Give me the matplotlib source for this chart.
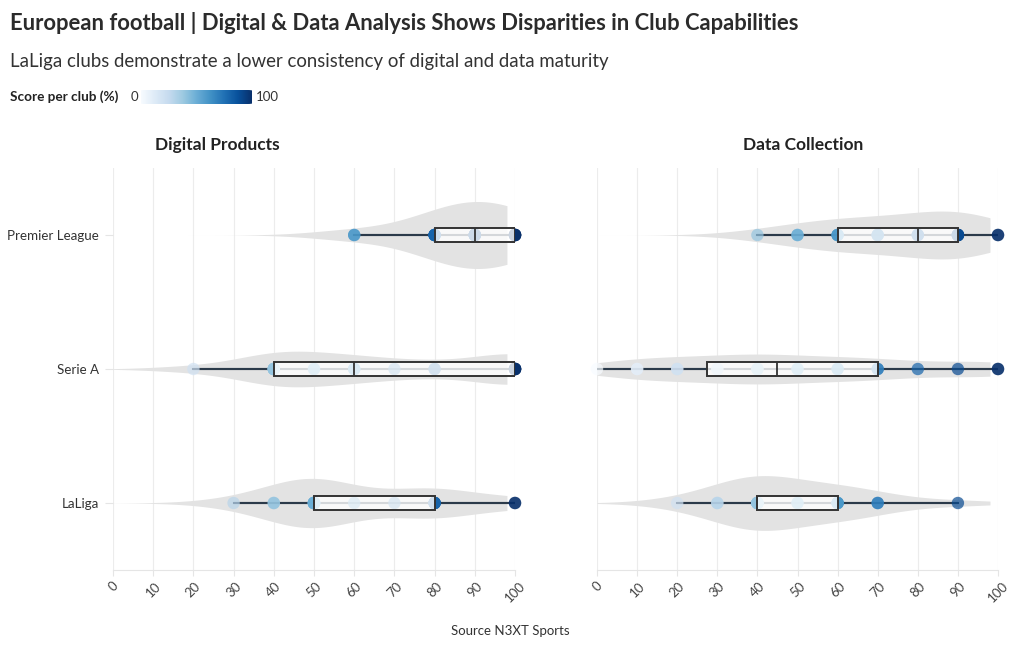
import numpy as np
import matplotlib
matplotlib.use("Agg")
import matplotlib.pyplot as plt
from matplotlib.patches import FancyBboxPatch

# ---------------- data ----------------
leagues = ["LaLiga", "Serie A", "Premier League"]
panel_titles = ["Digital Products", "Data Collection"]
x_ticks = [0, 10, 20, 30, 40, 50, 60, 70, 80, 90, 100]

digital_laliga = [30, 40, 40, 50, 50, 50, 50, 50, 50, 50, 50, 60, 70, 80, 80, 80, 80, 80, 100, 100]
digital_seriea = [20, 40, 40, 40, 40, 40, 50, 50, 60, 60, 60, 70, 80, 80, 100, 100, 100, 100, 100, 100]
digital_premier = [60, 60, 80, 80, 80, 80, 80, 90, 90, 90, 90, 90, 90, 90, 100, 100, 100, 100, 100, 100]

data_laliga = [20, 30, 30, 40, 40, 40, 40, 40, 40, 40, 40, 50, 50, 60, 60, 60, 60, 70, 70, 90]
data_seriea = [0, 10, 10, 20, 20, 30, 30, 40, 40, 40, 50, 50, 60, 60, 70, 70, 80, 90, 100, 100]
data_premier = [40, 50, 50, 60, 60, 60, 70, 70, 70, 80, 80, 80, 90, 90, 90, 90, 90, 90, 100, 100]

panels = [
    [digital_laliga, digital_seriea, digital_premier],
    [data_laliga, data_seriea, data_premier],
]

title = "European football | Digital & Data Analysis Shows Disparities in Club Capabilities"
subtitle = "LaLiga clubs demonstrate a lower consistency of digital and data maturity"
legend_label = "Score per club (%)"
source = "Source N3XT Sports"

# ---------------- style ----------------
FONT = ["Lato", "DejaVu Sans"]
plt.rcParams["font.family"] = FONT
W, H = 1020, 650
fig = plt.figure(figsize=(W / 100, H / 100), dpi=100)
cmap = plt.get_cmap("Blues")
violin_color = "#e3e3e3"
line_color = "#2b3a4a"
BANDWIDTH = 10.5


def kde(vals, grid, bw):
    v = np.asarray(vals, float)
    n = len(v)
    d = np.exp(-0.5 * ((grid[:, None] - v[None, :]) / bw) ** 2).sum(axis=1)
    return d / (n * bw * np.sqrt(2 * np.pi))


grid = np.linspace(0, 98, 400)
all_dens = [[kde(v, grid, BANDWIDTH) for v in p] for p in panels]
dmax = max(d.max() for p in all_dens for d in p)
half_max = 0.25

axes_x = [(113, 515), (597, 998)]
y_top, y_bot = 168, 570

for pi, (data_sets, (x0, x1)) in enumerate(zip(panels, axes_x)):
    ax = fig.add_axes([x0 / W, 1 - y_bot / H, (x1 - x0) / W, (y_bot - y_top) / H])
    ax.set_xlim(0, 100)
    ax.set_ylim(-0.5, 2.5)
    for i, vals in enumerate(data_sets):
        dens = all_dens[pi][i] / dmax * half_max
        ax.fill_between(grid, i - dens, i + dens, color=violin_color, lw=0, zorder=1)
        ax.hlines(i, min(vals), max(vals), color=line_color, lw=1.5, zorder=2)
        ax.scatter(vals, [i] * len(vals), c=vals, cmap=cmap, vmin=0, vmax=100,
                   s=80, alpha=0.7, lw=0, zorder=3, clip_on=False)
    bp = ax.boxplot(data_sets, positions=range(len(data_sets)), vert=False,
                    widths=0.105, whis=1.5, showfliers=False, showcaps=False,
                    patch_artist=True, manage_ticks=False)
    for b in bp["boxes"]:
        b.set_facecolor((1, 1, 1, 0.8))
        b.set_edgecolor("#333333")
        b.set_linewidth(1.4)
        b.set_zorder(4)
    for m in bp["medians"]:
        m.set_color("#333333")
        m.set_linewidth(1.3)
        m.set_zorder(5)
    for w in bp["whiskers"]:
        w.set_color(line_color)
        w.set_linewidth(1.5)
        w.set_zorder(2)

    ax.set_xticks(x_ticks)
    ax.set_xticklabels([str(t) for t in x_ticks], rotation=45, fontsize=9.5, color="#444444")
    ax.grid(axis="x", color="#ececec", lw=0.8, zorder=0)
    ax.set_axisbelow(True)
    for s in ["top", "right", "left"]:
        ax.spines[s].set_visible(False)
    ax.spines["bottom"].set_color("#e5e5e5")
    ax.tick_params(axis="x", colors="#e5e5e5", labelcolor="#444444", length=4, pad=3)
    ax.set_yticks(range(len(leagues)))
    if pi == 0:
        ax.set_yticklabels(leagues, fontsize=9.6, color="#333333")
        ax.tick_params(axis="y", colors="#e5e5e5", labelcolor="#333333", length=6, pad=4)
    else:
        ax.set_yticklabels([])
        ax.tick_params(axis="y", length=0)

fig.text(217 / W, 1 - 145 / H, panel_titles[0], ha="center", va="center",
         fontsize=12.5, fontweight="bold", color="#222222")
fig.text(803 / W, 1 - 145 / H, panel_titles[1], ha="center", va="center",
         fontsize=12.5, fontweight="bold", color="#222222")

fig.text(10 / W, 1 - 23 / H, title, ha="left", va="center", fontsize=15.8,
         fontweight="bold", color="#2b2b2b")
fig.text(10 / W, 1 - 62 / H, subtitle, ha="left", va="center", fontsize=13.4,
         color="#333333")

# colour legend
fig.text(10 / W, 1 - 97 / H, legend_label, ha="left", va="center", fontsize=9.8,
         fontweight="bold", color="#222222")
fig.text(131 / W, 1 - 97 / H, "0", ha="left", va="center", fontsize=9.5, color="#333333")
fig.text(256 / W, 1 - 97 / H, "100", ha="left", va="center", fontsize=9.5, color="#333333")
cax = fig.add_axes([141 / W, 1 - 104 / H, (252 - 141) / W, 14 / H])
cax.imshow(np.linspace(0, 1, 256)[None, :], aspect="auto", cmap=cmap,
           extent=[0, 1, 0, 1])
clip = FancyBboxPatch((0, 0), 1, 1, boxstyle="round,pad=0,rounding_size=0.04",
                      transform=cax.transAxes, facecolor="none", edgecolor="none")
cax.add_patch(clip)
cax.images[0].set_clip_path(clip)
cax.axis("off")

fig.text(510 / W, 1 - 631 / H, source, ha="center", va="center", fontsize=9.5,
         color="#333333")

fig.savefig("out.png", dpi=100)
